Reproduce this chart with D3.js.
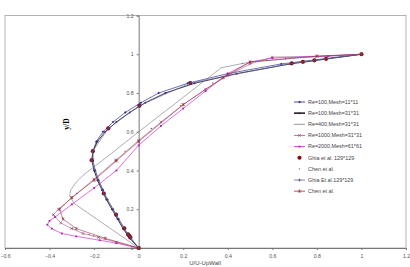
<!DOCTYPE html>
<html>
<head>
<meta charset="utf-8">
<script src="https://cdn.jsdelivr.net/npm/d3@7"></script>
<style>
body { margin: 0; background: #fff; }
svg { display: block; font-family: Arial, "Liberation Sans", sans-serif; }
</style>
</head>
<body>
<div id="chart"></div>
<script>
// values, [u, y/D]
var re100m11 = [[0,0],[-0.035,0.05],[-0.065,0.1],[-0.09,0.15],[-0.115,0.2],[-0.14,0.25],[-0.16,0.3],[-0.18,0.35],[-0.195,0.4],[-0.205,0.45],[-0.205,0.5],[-0.19,0.55],[-0.16,0.6],[-0.115,0.65],[-0.06,0.7],[0.01,0.75],[0.09,0.8],[0.22,0.85],[0.4,0.9],[0.64,0.95],[1,1]];
var re100m31 = [[0,0],[-0.04,0.05],[-0.07,0.1],[-0.095,0.15],[-0.12,0.2],[-0.145,0.25],[-0.165,0.3],[-0.185,0.35],[-0.2,0.4],[-0.21,0.45],[-0.205,0.5],[-0.185,0.55],[-0.15,0.6],[-0.1,0.65],[-0.04,0.7],[0.03,0.75],[0.12,0.8],[0.25,0.85],[0.44,0.9],[0.68,0.95],[1,1]];
var re400m31 = [[0,0],[-0.29,0.23],[-0.31,0.27],[-0.305,0.3],[-0.28,0.34],[-0.25,0.375],[-0.12,0.49],[0,0.6],[0.18,0.76],[0.37,0.93],[0.5,0.96],[0.75,0.985],[1,1]];
var re1000m31 = [[0,0],[-0.1,0.03],[-0.18,0.055],[-0.25,0.075],[-0.3,0.1],[-0.35,0.13],[-0.383,0.172],[-0.36,0.2],[-0.3,0.26],[-0.2,0.355],[-0.1,0.455],[0,0.555],[0.1,0.65],[0.2,0.74],[0.3,0.82],[0.4,0.89],[0.5,0.95],[0.6,0.985],[0.8,0.99],[1,1]];
var re2000m61 = [[0,0],[-0.1,0.025],[-0.175,0.04],[-0.28,0.06],[-0.345,0.075],[-0.39,0.1],[-0.41,0.12],[-0.4,0.14],[-0.375,0.16],[-0.3,0.225],[-0.2,0.31],[-0.1,0.4],[0,0.53],[0.1,0.63],[0.2,0.72],[0.3,0.81],[0.4,0.9],[0.5,0.96],[0.6,0.98],[0.85,0.99],[1,1]];
var ghiaDots = [[0,0],[-0.03717,0.0547],[-0.04192,0.0625],[-0.04775,0.0703],[-0.06434,0.1016],[-0.1015,0.1719],[-0.15662,0.2813],[-0.2109,0.4531],[-0.20581,0.5],[-0.13641,0.6172],[0.00332,0.7344],[0.23151,0.8516],[0.68717,0.9531],[0.73722,0.9609],[0.78871,0.9688],[0.84123,0.9766],[1,1]];
var chenDots = [[-0.181,0.0547],[-0.202,0.0625],[-0.222,0.0703],[-0.297,0.1016],[-0.383,0.1719],[-0.278,0.2813],[-0.106,0.4531],[-0.061,0.5],[0.057,0.6172],[0.187,0.7344],[0.333,0.8516],[0.466,0.9531],[0.511,0.9609],[0.575,0.9688],[0.659,0.9766]];
var ghiaLine = [[0,0],[-0.037,0.0547],[-0.048,0.0703],[-0.064,0.1016],[-0.101,0.1719],[-0.157,0.2813],[-0.211,0.4531],[-0.206,0.5],[-0.136,0.6172],[0.003,0.7344],[0.232,0.8516],[0.687,0.9531],[0.788,0.9688],[1,1]];
var chenLine = [[0,0],[-0.15,0.05],[-0.28,0.1],[-0.34,0.15],[-0.355,0.2],[-0.3,0.26],[-0.2,0.35],[-0.1,0.45],[0,0.55],[0.2,0.74],[0.38,0.88],[0.5,0.96],[0.8,0.99],[1,1]];

var legendLabels = ["Re=100,Mesh=11*11","Re=100,Mesh=31*31","Re=400,Mesh=31*31","Re=1000,Mesh=31*31","Re=2000,Mesh=61*61","Ghia et al. 129*129","Chen et al.","Ghia Et al.129*129","Chen et al."];
var xTicks = [-0.6,-0.4,-0.2,0,0.2,0.4,0.6,0.8,1,1.2];
var yTicks = [0,0.2,0.4,0.6,0.8,1,1.2];

var series = [
  {data: re100m11, color: "#333399", width: 0.7, marker: "diamond", mcolor: "#2a2a99"},
  {data: re100m31, color: "#222222", width: 0.9, marker: "circle", mcolor: "#551a55", legendWidth: 1.6},
  {data: re400m31, color: "#777777", width: 0.6, marker: null},
  {data: re1000m31, color: "#9a5a88", width: 0.6, marker: "cross", mcolor: "#993366"},
  {data: re2000m61, color: "#cc33cc", width: 0.7, marker: "square", mcolor: "#aa22aa"},
  {data: ghiaDots, color: null, marker: "bigdot", mcolor: "#8b0a0a"},
  {data: chenDots, color: null, marker: "dot", mcolor: "#666666"},
  {data: ghiaLine, color: "#6666aa", width: 0.6, marker: "plus", mcolor: "#444488"},
  {data: chenLine, color: "#993344", width: 0.6, marker: "star", mcolor: "#993333"}
];

var W = 410, H = 267;
var svg = d3.select("#chart").append("svg").attr("width", W).attr("height", H);

var x = d3.scaleLinear().domain([-0.6, 1.2]).range([5, 406]);
var y = d3.scaleLinear().domain([0, 1.2]).range([248, 15.5]);

// plot border
svg.append("rect")
  .attr("x", x(-0.6)).attr("y", y(1.2))
  .attr("width", x(1.2) - x(-0.6)).attr("height", y(0) - y(1.2))
  .attr("fill", "none").attr("stroke", "#a0a0a0").attr("stroke-width", 0.8);

// x axis along y=0
var xAxis = d3.axisBottom(x).tickValues(xTicks).tickSize(2).tickFormat(d3.format("~g"));
var gx = svg.append("g").attr("transform", "translate(0," + y(0) + ")").call(xAxis);
gx.select(".domain").attr("stroke", "#777");
gx.selectAll("line").attr("stroke", "#777");
gx.selectAll("text").attr("font-size", 5.2).attr("fill", "#555").attr("dy", "0.9em");

// y axis along u=0
var yAxis = d3.axisLeft(y).tickValues(yTicks).tickSize(2).tickFormat(d3.format("~g"));
var gy = svg.append("g").attr("transform", "translate(" + x(0) + ",0)").call(yAxis);
gy.select(".domain").attr("stroke", "#777");
gy.selectAll("line").attr("stroke", "#777");
gy.selectAll("text").attr("font-size", 5.2).attr("fill", "#555");

svg.append("text")
  .attr("transform", "translate(69,124) rotate(-90)")
  .attr("text-anchor", "middle")
  .attr("font-family", "'Liberation Serif', 'DejaVu Serif', serif")
  .attr("font-weight", "bold")
  .attr("font-size", 7.5)
  .text("y/D");

svg.append("text")
  .attr("x", 205).attr("y", 265)
  .attr("text-anchor", "middle")
  .attr("font-size", 6)
  .attr("fill", "#444")
  .text("U/U-UpWall");

var line = d3.line().x(function(d) { return x(d[0]); }).y(function(d) { return y(d[1]); });

function drawMarker(g, kind, cx, cy, col) {
  if (kind == "diamond") {
    g.append("path").attr("d", "M" + cx + "," + (cy - 1.3) + "L" + (cx + 1.3) + "," + cy + "L" + cx + "," + (cy + 1.3) + "L" + (cx - 1.3) + "," + cy + "Z").attr("fill", col);
  } else if (kind == "circle") {
    g.append("circle").attr("cx", cx).attr("cy", cy).attr("r", 1).attr("fill", col);
  } else if (kind == "square") {
    g.append("rect").attr("x", cx - 0.9).attr("y", cy - 0.9).attr("width", 1.8).attr("height", 1.8).attr("fill", col);
  } else if (kind == "bigdot") {
    g.append("circle").attr("cx", cx).attr("cy", cy).attr("r", 2.1).attr("fill", col);
  } else if (kind == "dot") {
    g.append("circle").attr("cx", cx).attr("cy", cy).attr("r", 0.7).attr("fill", col);
  } else if (kind == "cross") {
    g.append("path").attr("d", "M" + (cx - 1.4) + "," + (cy - 1.4) + "L" + (cx + 1.4) + "," + (cy + 1.4) + "M" + (cx - 1.4) + "," + (cy + 1.4) + "L" + (cx + 1.4) + "," + (cy - 1.4)).attr("stroke", col).attr("stroke-width", 0.6);
  } else if (kind == "plus") {
    g.append("path").attr("d", "M" + (cx - 1.6) + "," + cy + "L" + (cx + 1.6) + "," + cy + "M" + cx + "," + (cy - 1.6) + "L" + cx + "," + (cy + 1.6)).attr("stroke", col).attr("stroke-width", 0.6);
  } else if (kind == "star") {
    g.append("path").attr("d", "M" + (cx - 1.4) + "," + (cy - 1.4) + "L" + (cx + 1.4) + "," + (cy + 1.4) + "M" + (cx - 1.4) + "," + (cy + 1.4) + "L" + (cx + 1.4) + "," + (cy - 1.4) + "M" + cx + "," + (cy - 1.8) + "L" + cx + "," + (cy + 1.8)).attr("stroke", col).attr("stroke-width", 0.6);
  }
}

series.forEach(function(s) {
  var g = svg.append("g");
  if (s.color) {
    g.append("path").datum(s.data).attr("d", line)
      .attr("fill", "none").attr("stroke", s.color).attr("stroke-width", s.width);
  }
  if (s.marker) {
    s.data.forEach(function(d) { drawMarker(g, s.marker, x(d[0]), y(d[1]), s.mcolor); });
  }
});

// legend
var leg = svg.append("g");
series.forEach(function(s, i) {
  var ly = 102 + i * 11.15;
  if (s.color) {
    leg.append("line").attr("x1", 294).attr("x2", 305).attr("y1", ly).attr("y2", ly)
      .attr("stroke", s.color).attr("stroke-width", s.legendWidth || s.width + 0.2);
  }
  if (s.marker) drawMarker(leg, s.marker, 299.5, ly, s.mcolor);
  leg.append("text").attr("x", 308).attr("y", ly + 1.8)
    .attr("font-size", 5.4).attr("fill", "#444").text(legendLabels[i]);
});
</script>
</body>
</html>
